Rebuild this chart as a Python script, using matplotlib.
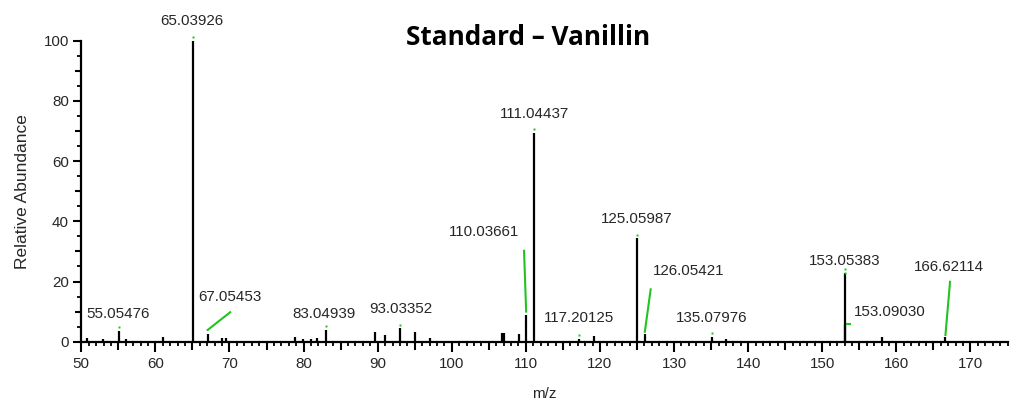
import numpy as np
import matplotlib
matplotlib.use("Agg")
import matplotlib.pyplot as plt
from matplotlib.ticker import MultipleLocator

# peak list (m/z, relative abundance)
mz = [50.8, 52.9, 55.05476, 56.0, 61.0, 65.03926, 67.05453, 68.95, 69.5,
      78.9, 79.9, 81.0, 81.8, 83.04939, 89.7, 91.0, 93.03352, 95.0, 97.0,
      106.8, 107.0, 109.1, 110.03661, 111.04437, 117.20125, 119.2,
      125.05987, 126.05421, 135.07976, 137.0, 153.05383, 153.09030,
      158.1, 166.62114]
abundance = [1.1, 1.0, 3.6, 1.0, 1.5, 100.0, 2.5, 1.2, 1.2,
             1.5, 1.0, 1.0, 1.3, 3.8, 3.3, 2.2, 4.4, 3.1, 1.2,
             2.8, 2.8, 2.5, 8.9, 69.2, 1.0, 2.0,
             34.3, 2.6, 1.6, 1.0, 22.8, 5.8,
             1.4, 1.5]

# peaks that carry a mass label
labelled = ["55.05476", "65.03926", "67.05453", "83.04939", "93.03352",
            "110.03661", "111.04437", "117.20125", "125.05987", "126.05421",
            "135.07976", "153.05383", "153.09030", "166.62114"]

# label placement (text centre) and leader-line start, in data units
text_pos = {
    "55.05476": (55.0, 9.2), "65.03926": (64.9, 106.5), "67.05453": (70.0, 14.7),
    "83.04939": (82.7, 9.2), "93.03352": (93.1, 10.9), "110.03661": (104.3, 36.3),
    "111.04437": (111.1, 75.6), "117.20125": (117.2, 8.0), "125.05987": (125.0, 40.6),
    "126.05421": (132.0, 23.6), "135.07976": (135.1, 8.0), "153.05383": (153.0, 26.9),
    "153.09030": (159.1, 9.8), "166.62114": (167.1, 24.7),
}
leader_start = {
    "67.05453": (70.1, 9.8, 1.4), "110.03661": (109.75, 30.2, 1.1),
    "126.05421": (126.84, 17.4, 0.7), "166.62114": (167.24, 19.9, 0.7),
    "153.09030": (153.7, 5.9, 0.1),
}

green = "#22c422"
txt = "#262626"
plt.rcParams["font.family"] = ["Liberation Sans", "DejaVu Sans"]

fig = plt.figure(figsize=(10.16, 4.03), dpi=100)
ax = fig.add_axes([0.0800, 0.1521, 0.9124, 0.7469])

ax.vlines(mz, 0, abundance, color="black", lw=1.6)

for lab in labelled:
    i = mz.index(float(lab))
    x, y = mz[i], abundance[i]
    tx, ty = text_pos[lab]
    ax.text(tx, ty, lab, ha="center", va="center", fontsize=10.9,
            color=txt, clip_on=False)
    if lab in leader_start:
        x0, y0, lift = leader_start[lab]
        if lab == "153.09030":
            ax.plot([x0, x + 0.2], [y0, y0], color=green, lw=1.5, clip_on=False)
        else:
            ax.plot([x0, x], [y0, y + lift], color=green, lw=1.5, clip_on=False)
    else:
        ax.plot([x], [y + 1.3], marker="s", ms=1.6, color=green, mec="none",
                clip_on=False)
# top marker on the base peak of the 153 cluster
ax.plot([153.05383], [22.8], marker="s", ms=1.6, color=green, mec="none")

ax.set_xlim(50, 175.1)
ax.set_ylim(0, 100)
for s in ["top", "right"]:
    ax.spines[s].set_visible(False)
for s in ["left", "bottom"]:
    ax.spines[s].set_linewidth(1.6)

ax.xaxis.set_major_locator(MultipleLocator(10))
ax.xaxis.set_minor_locator(MultipleLocator(1))
ax.yaxis.set_major_locator(MultipleLocator(20))
ax.yaxis.set_minor_locator(MultipleLocator(5))
ax.tick_params(axis="x", which="major", length=7.2, width=1.5, pad=4,
               labelsize=10.9, labelcolor=txt)
ax.tick_params(axis="x", which="minor", length=2.6, width=1.3)
ax.tick_params(axis="y", which="major", length=6, width=1.5, pad=3,
               labelsize=10.9, labelcolor=txt)
ax.tick_params(axis="y", which="minor", length=3, width=1.3)

# medium ticks at the halfway marks
secx = ax.secondary_xaxis("bottom")
secx.set_xticks(np.arange(55, 175, 10))
secx.tick_params(length=5.8, width=1.5, labelbottom=False)
secx.spines["bottom"].set_visible(False)
secy = ax.secondary_yaxis("left")
secy.set_yticks(np.arange(10, 100, 20))
secy.tick_params(length=4.5, width=1.5, labelleft=False)
secy.spines["left"].set_visible(False)

ax.set_xlabel("m/z", fontsize=10.9, color=txt, labelpad=11)
ax.set_ylabel("Relative Abundance", fontsize=12.5, color=txt, labelpad=10)

fig.text(0.52, 0.908, "Standard \u2013 Vanillin", ha="center", va="center",
         fontsize=18.8, fontweight="bold", family=["Open Sans", "DejaVu Sans"])

fig.savefig("out.png", dpi=100)
